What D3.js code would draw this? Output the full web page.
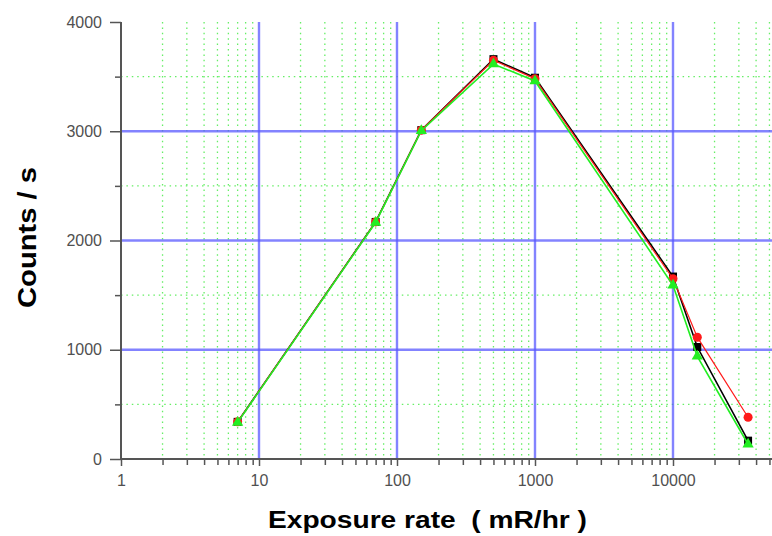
<!DOCTYPE html>
<html>
<head>
<meta charset="utf-8">
<script src="https://cdn.jsdelivr.net/npm/d3@7"></script>
<style>
  body { margin: 0; background: #fff; }
  svg { display: block; }
</style>
</head>
<body>
<div id="chart"></div>
<script>
// exposure rate (mR/hr) and counts per second for three runs
const exposure = [7, 70, 150, 500, 1000, 10000, 15000, 35000];
const countsBlack = [340, 2170, 3010, 3660, 3490, 1670, 1025, 168];
const countsRed = [340, 2170, 3010, 3650, 3480, 1650, 1115, 382];
const countsGreen = [335, 2165, 3005, 3615, 3460, 1590, 940, 135];
const xMajorTicks = [1, 10, 100, 1000, 10000];
const yMajorTicks = [0, 1000, 2000, 3000, 4000];
const yMinorTicks = [500, 1500, 2500, 3500];

const buildChart = () => {
  const width = 772, height = 536;
  const left = 121, top = 22, bottom = 459;
  const decade = 138;

  const svg = d3.select("#chart").append("svg")
    .attr("width", width)
    .attr("height", height);

  const x = d3.scaleLog().domain([1, 1e5]).range([left, left + decade * 5]);
  const y = d3.scaleLinear().domain([0, 4000]).range([bottom, top]);

  const xMinor = x.ticks().filter(v => !xMajorTicks.includes(v) && v !== 1e5);

  // minor grid, green dotted
  const grid = svg.append("g");
  grid.selectAll(".vminor")
    .data(xMinor)
    .enter().append("line")
    .attr("x1", d => x(d)).attr("x2", d => x(d))
    .attr("y1", top).attr("y2", bottom)
    .attr("stroke", "#66ee66").attr("stroke-width", 1.3)
    .attr("stroke-dasharray", "1.5,3.9");
  grid.selectAll(".hminor")
    .data(yMinorTicks)
    .enter().append("line")
    .attr("x1", left).attr("x2", width)
    .attr("y1", d => y(d)).attr("y2", d => y(d))
    .attr("stroke", "#66ee66").attr("stroke-width", 1.3)
    .attr("stroke-dasharray", "1.5,3.9");

  // major grid, blue
  grid.selectAll(".vmajor")
    .data(xMajorTicks.slice(1))
    .enter().append("line")
    .attr("x1", d => x(d)).attr("x2", d => x(d))
    .attr("y1", top).attr("y2", bottom)
    .attr("stroke", "#5a5aff").attr("stroke-width", 2.4).attr("opacity", 0.75);
  grid.selectAll(".hmajor")
    .data(yMajorTicks.slice(1, -1))
    .enter().append("line")
    .attr("x1", left).attr("x2", width)
    .attr("y1", d => y(d)).attr("y2", d => y(d))
    .attr("stroke", "#5a5aff").attr("stroke-width", 2.4).attr("opacity", 0.75);

  // axes
  const xAxis = svg.append("g")
    .attr("transform", `translate(0,${bottom})`)
    .call(d3.axisBottom(x).tickValues(xMajorTicks).tickSize(7).tickPadding(9)
      .tickFormat(d3.format("d")));
  svg.append("g")
    .attr("transform", `translate(0,${bottom})`)
    .call(d3.axisBottom(x).tickValues(xMinor).tickSize(6).tickFormat(""))
    .call(g => g.select(".domain").remove());
  xAxis.select(".domain").attr("d", `M${left},0H${width}`);

  const yAxis = svg.append("g")
    .attr("transform", `translate(${left},0)`)
    .call(d3.axisLeft(y).tickValues(yMajorTicks).tickSize(11).tickPadding(8)
      .tickFormat(d3.format("d")));
  svg.append("g")
    .attr("transform", `translate(${left},0)`)
    .call(d3.axisLeft(y).tickValues(yMinorTicks).tickSize(6).tickFormat(""))
    .call(g => g.select(".domain").remove());
  yAxis.select(".domain").attr("d", `M0,${top}V${bottom}`);

  svg.selectAll(".domain").attr("stroke", "#555").attr("stroke-width", 2);
  svg.selectAll(".tick line").attr("stroke", "#555").attr("stroke-width", 1.5);
  svg.selectAll(".tick text")
    .attr("font-family", "Liberation Sans, Arial, sans-serif")
    .attr("font-size", "16px")
    .attr("fill", "#505050");

  // series
  const series = [
    { values: countsBlack, color: "#000", symbol: d3.symbolSquare, size: 64, lw: 1.6 },
    { values: countsRed, color: "#ff1a1a", symbol: d3.symbolCircle, size: 64, lw: 1.2 },
    { values: countsGreen, color: "#22ee22", symbol: d3.symbolTriangle, size: 55, lw: 1.6 }
  ];
  const line = d3.line().x(d => x(d[0])).y(d => y(d[1]));

  series.forEach(s => {
    const pts = exposure.map((e, i) => [e, s.values[i]]);
    svg.append("path")
      .datum(pts)
      .attr("d", line)
      .attr("fill", "none")
      .attr("stroke", s.color)
      .attr("stroke-width", s.lw);
    svg.selectAll(null)
      .data(pts)
      .enter().append("path")
      .attr("transform", d => `translate(${x(d[0])},${y(d[1])})`)
      .attr("d", d3.symbol().type(s.symbol).size(s.size))
      .attr("fill", s.color);
  });

  // titles
  svg.append("text")
    .text("Exposure rate  ( mR/hr )")
    .attr("x", 268).attr("y", 528)
    .attr("textLength", 319).attr("lengthAdjust", "spacingAndGlyphs")
    .attr("font-family", "Liberation Sans, Arial, sans-serif")
    .attr("font-weight", "bold").attr("font-size", "23px")
    .attr("fill", "#000")
    .style("white-space", "pre");

  svg.append("text")
    .text("Counts / s")
    .attr("transform", "translate(36,308) rotate(-90)")
    .attr("textLength", 141).attr("lengthAdjust", "spacingAndGlyphs")
    .attr("font-family", "Liberation Sans, Arial, sans-serif")
    .attr("font-weight", "bold").attr("font-size", "25px")
    .attr("fill", "#000");
};

document.addEventListener("DOMContentLoaded", buildChart);
</script>
</body>
</html>
